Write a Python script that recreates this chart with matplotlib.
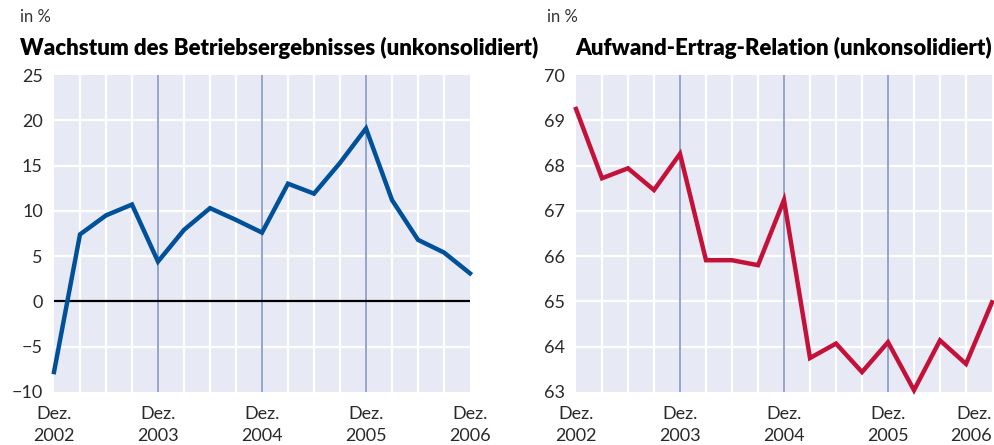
import numpy as np
import matplotlib
matplotlib.use('Agg')
import matplotlib.pyplot as plt

plt.rcParams['font.family'] = ['Lato', 'DejaVu Sans']

quarters = np.arange(17)
tick_pos = [0, 4, 8, 12, 16]
tick_labels = ['Dez.\n2002', 'Dez.\n2003', 'Dez.\n2004', 'Dez.\n2005', 'Dez.\n2006']
year_lines = [4, 8, 12]

wachstum = [-7.8, 7.4, 9.5, 10.7, 4.4, 7.9, 10.3, 9.0, 7.6, 13.0, 11.9, 15.3, 19.1, 11.2, 6.8, 5.4, 3.1]
aufwand = [69.25, 67.72, 67.94, 67.46, 68.26, 65.91, 65.91, 65.80, 67.24, 63.75, 64.07, 63.44, 64.10, 63.04, 64.14, 63.62, 64.98]

bg = '#E7EAF4'
year_col = '#8A9DCB'
blue = '#00519A'
red = '#C4113A'

fig = plt.figure(figsize=(9.95, 4.45), dpi=100)
ax1 = fig.add_axes([54/995, 1-392/445, 416/995, 317/445])
ax2 = fig.add_axes([576/995, 1-392/445, 416/995, 317/445])


def style(ax, ylim, yticks):
    ax.set_facecolor(bg)
    for s in ax.spines.values():
        s.set_visible(False)
    ax.set_xlim(0, 16)
    ax.set_ylim(*ylim)
    ax.set_yticks(yticks)
    ax.set_yticklabels([str(t).replace('-', '\u2212') for t in yticks], fontsize=13, color='#2a2a2a')
    ax.set_xticks(tick_pos)
    ax.set_xticklabels(tick_labels, fontsize=13, color='#2a2a2a', linespacing=1.45)
    ax.tick_params(length=0, pad=8)
    ax.tick_params(axis='x', pad=10)
    for q in quarters[1:-1]:
        ax.axvline(q, color='white', lw=1.6, zorder=1)
    for t in yticks[1:-1]:
        ax.axhline(t, color='white', lw=1.6, zorder=1)
    for q in year_lines:
        ax.axvline(q, color=year_col, lw=1.3, zorder=2)


style(ax1, (-10, 25), [-10, -5, 0, 5, 10, 15, 20, 25])
ax1.axhline(0, color='black', lw=1.6, zorder=3)
ax1.plot(quarters, wachstum, color=blue, lw=3.2, zorder=4, solid_joinstyle='miter', clip_on=False)
ax1.get_xticklabels()[-1].set_x(15.8)

style(ax2, (63, 70), [63, 64, 65, 66, 67, 68, 69, 70])
ax2.plot(quarters, aufwand, color=red, lw=3.2, zorder=4, solid_joinstyle='miter', clip_on=False)
ax2.get_xticklabels()[-1].set_horizontalalignment('right')
ax2.get_xticklabels()[-1].set_x(16.1)

fig.text(20/995, 1-17/445, 'in %', fontsize=12, color='#333333', va='center')
fig.text(20/995, 1-48/445, 'Wachstum des Betriebsergebnisses (unkonsolidiert)',
         fontsize=16, fontweight='heavy', va='center')
fig.text(547/995, 1-17/445, 'in %', fontsize=12, color='#333333', va='center')
fig.text(575/995, 1-48/445, 'Aufwand-Ertrag-Relation (unkonsolidiert)',
         fontsize=16, fontweight='heavy', va='center')

fig.savefig('out.png', dpi=100)
